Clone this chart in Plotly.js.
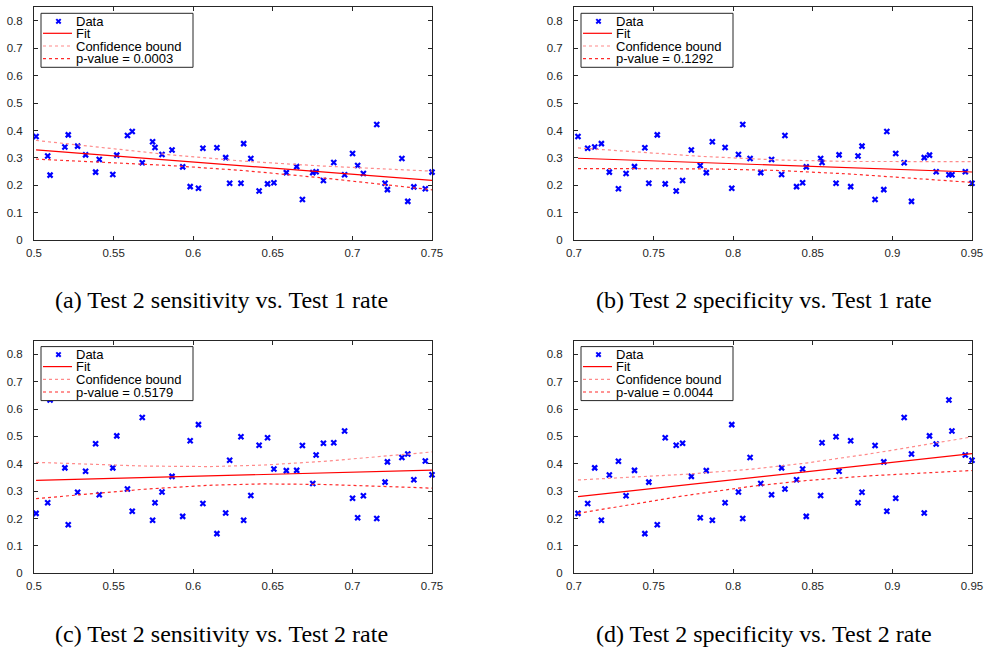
<!DOCTYPE html>
<html><head><meta charset="utf-8">
<script src="https://cdn.plot.ly/plotly-3.0.1.min.js"></script>
<style>html,body{margin:0;padding:0;background:#fff}#chart{width:986px;height:652px}</style>
</head><body><div id="chart"></div>
<script>
// ---- data ----
const sensX = [0.5013,0.5086,0.5101,0.5194,0.5215,0.5274,0.5324,0.5387,0.5410,0.5495,0.5520,0.5587,0.5617,0.5680,0.5745,0.5760,0.5804,0.5867,0.5934,0.5981,0.6033,0.6061,0.6149,0.6204,0.6229,0.6300,0.6317,0.6362,0.6414,0.6467,0.6507,0.6585,0.6650,0.6686,0.6751,0.6772,0.6818,0.6883,0.6951,0.7001,0.7033,0.7069,0.7153,0.7205,0.7220,0.7311,0.7348,0.7386,0.7458,0.7500];
const specX = [0.7025,0.7086,0.7130,0.7172,0.7222,0.7279,0.7327,0.7380,0.7445,0.7470,0.7523,0.7573,0.7642,0.7682,0.7737,0.7793,0.7831,0.7869,0.7949,0.7991,0.8033,0.8060,0.8106,0.8173,0.8241,0.8304,0.8325,0.8398,0.8436,0.8459,0.8549,0.8558,0.8646,0.8665,0.8738,0.8784,0.8809,0.8891,0.8946,0.8965,0.9021,0.9074,0.9120,0.9200,0.9233,0.9275,0.9355,0.9374,0.9458,0.9500];
const yA = [0.378,0.307,0.237,0.340,0.384,0.343,0.311,0.248,0.294,0.239,0.310,0.382,0.396,0.282,0.359,0.338,0.312,0.329,0.267,0.195,0.189,0.335,0.337,0.301,0.207,0.207,0.352,0.298,0.179,0.205,0.209,0.246,0.268,0.148,0.246,0.249,0.217,0.283,0.238,0.316,0.272,0.243,0.422,0.207,0.184,0.298,0.141,0.194,0.187,0.248];
const yB = [0.378,0.335,0.340,0.352,0.248,0.187,0.243,0.268,0.337,0.207,0.384,0.205,0.179,0.217,0.329,0.272,0.246,0.359,0.338,0.189,0.312,0.422,0.298,0.246,0.294,0.239,0.382,0.195,0.209,0.267,0.298,0.283,0.207,0.311,0.195,0.307,0.343,0.148,0.184,0.396,0.316,0.282,0.141,0.301,0.310,0.249,0.238,0.238,0.249,0.207];
const yC = [0.219,0.258,0.633,0.385,0.177,0.296,0.373,0.473,0.287,0.385,0.502,0.308,0.227,0.569,0.194,0.258,0.297,0.354,0.208,0.484,0.543,0.255,0.145,0.220,0.413,0.499,0.194,0.284,0.468,0.495,0.381,0.375,0.376,0.467,0.328,0.432,0.475,0.477,0.520,0.274,0.203,0.283,0.200,0.333,0.407,0.423,0.436,0.342,0.410,0.360];
const yD = [0.219,0.255,0.385,0.194,0.359,0.409,0.283,0.376,0.145,0.333,0.177,0.495,0.468,0.475,0.354,0.203,0.375,0.194,0.258,0.543,0.297,0.200,0.423,0.328,0.287,0.385,0.308,0.342,0.381,0.208,0.284,0.477,0.499,0.373,0.484,0.258,0.296,0.467,0.407,0.227,0.274,0.569,0.436,0.220,0.502,0.472,0.633,0.520,0.432,0.413];
const pValues = ['0.0003','0.1292','0.5179','0.0044'];
const captions = ['(a) Test 2 sensitivity vs. Test 1 rate','(b) Test 2 specificity vs. Test 1 rate','(c) Test 2 sensitivity vs. Test 2 rate','(d) Test 2 specificity vs. Test 2 rate'];
const legendNames = ['Data','Fit','Confidence bound'];
const sensTicks = [0.5,0.55,0.6,0.65,0.7,0.75];
const sensTickText = ['0.5','0.55','0.6','0.65','0.7','0.75'];
const specTicks = [0.7,0.75,0.8,0.85,0.9,0.95];
const specTickText = ['0.7','0.75','0.8','0.85','0.9','0.95'];
const yTicks = [0,0.1,0.2,0.3,0.4,0.5,0.6,0.7,0.8];
const yTickText = ['0','0.1','0.2','0.3','0.4','0.5','0.6','0.7','0.8'];

// ---- layout geometry (pixels) ----
const W = 986, H = 652;
const panels = [
  {x:sensX, y:yA, xr:[0.5,0.75], tv:sensTicks, tt:sensTickText, left:34,  right:432, top:7.3,   bottom:240,   capX:221.5, capY:300},
  {x:specX, y:yB, xr:[0.7,0.95], tv:specTicks, tt:specTickText, left:574, right:972, top:7.3,   bottom:240,   capX:763.5, capY:300},
  {x:sensX, y:yC, xr:[0.5,0.75], tv:sensTicks, tt:sensTickText, left:34,  right:432, top:340.6, bottom:573.3, capX:221.5, capY:634},
  {x:specX, y:yD, xr:[0.7,0.95], tv:specTicks, tt:specTickText, left:574, right:972, top:340.6, bottom:573.3, capX:763.5, capY:634}
];
const px = v => v / W;
const py = v => 1 - v / H;

function linFit(x, y) {
  const n = x.length;
  const xb = x.reduce((s,v)=>s+v,0)/n, yb = y.reduce((s,v)=>s+v,0)/n;
  let sxx=0, sxy=0;
  for (let i=0;i<n;i++){ sxx += (x[i]-xb)**2; sxy += (x[i]-xb)*(y[i]-yb); }
  const b = sxy/sxx, a = yb - b*xb;
  let sse=0; for (let i=0;i<n;i++) sse += (y[i]-a-b*x[i])**2;
  const s = Math.sqrt(sse/(n-2));
  const t = 2.0106; // 95%, df = 48
  const x0 = Math.min(...x), x1 = Math.max(...x);
  const gx=[], fy=[], up=[], lo=[];
  for (let k=0;k<=60;k++){
    const xv = x0 + (x1-x0)*k/60;
    const f = a + b*xv;
    const hw = t*s*Math.sqrt(1/n + (xv-xb)**2/sxx);
    gx.push(xv); fy.push(f); up.push(f+hw); lo.push(f-hw);
  }
  return {gx, fy, up, lo};
}

const traces = [], shapes = [], annotations = [];
const layout = {width:W, height:H, margin:{l:0,r:0,t:0,b:0}, paper_bgcolor:'#fff', plot_bgcolor:'#fff', showlegend:false};
const tickFont = {family:'Liberation Sans, Arial, sans-serif', size:11.5, color:'#262626'};
const legFont = {family:'Liberation Sans, Arial, sans-serif', size:13, color:'#000'};

panels.forEach((p, i) => {
  const sfx = i === 0 ? '' : String(i+1);
  const xa = 'x'+sfx, ya = 'y'+sfx;
  layout['xaxis'+sfx] = {domain:[px(p.left), px(p.right)], range:p.xr, anchor:ya, tickvals:p.tv, ticktext:p.tt,
    ticks:'inside', ticklen:4, tickcolor:'#262626', showline:true, mirror:'ticks', linecolor:'#262626', linewidth:1,
    showgrid:false, zeroline:false, tickfont:tickFont, fixedrange:true, ticklabelstandoff:2};
  layout['yaxis'+sfx] = {domain:[py(p.bottom), py(p.top)], range:[0,0.85], anchor:xa, tickvals:yTicks, ticktext:yTickText,
    ticks:'inside', ticklen:4, tickcolor:'#262626', showline:true, mirror:'ticks', linecolor:'#262626', linewidth:1,
    showgrid:false, zeroline:false, tickfont:tickFont, fixedrange:true, ticklabelstandoff:8};
  const fit = linFit(p.x, p.y);
  traces.push({x:p.x, y:p.y, xaxis:xa, yaxis:ya, type:'scatter', mode:'markers', cliponaxis:false, name:legendNames[0],
    marker:{symbol:'x-thin-open', size:5, color:'#0000ff', line:{width:2.2, color:'#0000ff'}}});
  traces.push({x:fit.gx, y:fit.fy, xaxis:xa, yaxis:ya, type:'scatter', mode:'lines', name:legendNames[1], line:{color:'#ff0000', width:1.2}});
  traces.push({x:fit.gx, y:fit.up, xaxis:xa, yaxis:ya, type:'scatter', mode:'lines', name:legendNames[2], line:{color:'#ff8a8a', width:1.2, dash:'dot'}});
  traces.push({x:fit.gx, y:fit.lo, xaxis:xa, yaxis:ya, type:'scatter', mode:'lines', name:'p-value = '+pValues[i], line:{color:'#ff2a2a', width:1.2, dash:'dot'}});

  // legend box
  const L = p.left, T = p.top;
  shapes.push({type:'rect', xref:'paper', yref:'paper', x0:px(L+7), x1:px(L+159), y0:py(T+6), y1:py(T+60),
    line:{color:'#262626', width:1}, fillcolor:'#ffffff', layer:'above'});
  const rows = [T+14, T+26, T+38.7, T+51.4];
  const mx = L+24.5, my = rows[0], r = 2.2;
  shapes.push({type:'line', xref:'paper', yref:'paper', x0:px(mx-r), x1:px(mx+r), y0:py(my-r), y1:py(my+r), line:{color:'#0000ff', width:2}, layer:'above'});
  shapes.push({type:'line', xref:'paper', yref:'paper', x0:px(mx-r), x1:px(mx+r), y0:py(my+r), y1:py(my-r), line:{color:'#0000ff', width:2}, layer:'above'});
  shapes.push({type:'line', xref:'paper', yref:'paper', x0:px(L+9), x1:px(L+38), y0:py(rows[1]), y1:py(rows[1]), line:{color:'#ff0000', width:1.2}, layer:'above'});
  shapes.push({type:'line', xref:'paper', yref:'paper', x0:px(L+9), x1:px(L+38), y0:py(rows[2]), y1:py(rows[2]), line:{color:'#ff8a8a', width:1.2, dash:'dot'}, layer:'above'});
  shapes.push({type:'line', xref:'paper', yref:'paper', x0:px(L+9), x1:px(L+38), y0:py(rows[3]), y1:py(rows[3]), line:{color:'#ff2a2a', width:1.2, dash:'dot'}, layer:'above'});
  const texts = [legendNames[0], legendNames[1], legendNames[2], 'p-value = '+pValues[i]];
  texts.forEach((t, k) => annotations.push({text:t, xref:'paper', yref:'paper', x:px(L+41), y:py(rows[k]),
    xanchor:'left', yanchor:'middle', showarrow:false, font:legFont, borderpad:0}));
  annotations.push({text:captions[i], xref:'paper', yref:'paper', x:px(p.capX), y:py(p.capY), xanchor:'center', yanchor:'middle',
    showarrow:false, font:{family:'Liberation Serif, Times New Roman, serif', size:24, color:'#000'}});
});
layout.shapes = shapes;
layout.annotations = annotations;
Plotly.newPlot('chart', traces, layout, {staticPlot:true, displayModeBar:false});
</script>
</body></html>
